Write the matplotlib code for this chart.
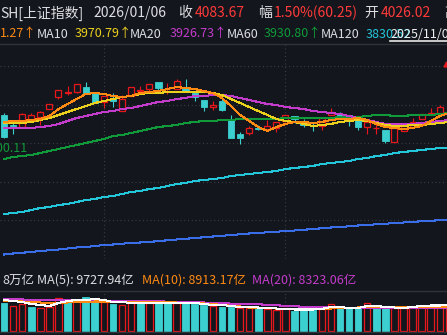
import matplotlib
matplotlib.use('Agg')
import matplotlib.pyplot as plt
import numpy as np

plt.rcParams['font.family'] = ['Noto Sans CJK SC', 'DejaVu Sans']

BG = '#13161c'
RED = '#e8171c'
CYAN = '#3ccfcf'
WHITE = '#dcdee2'
C_MA5 = '#ff8a14'
C_MA10 = '#ecd01e'
C_MA20 = '#c43ccc'
C_MA60 = '#109a3a'
C_MA120 = '#24c6da'
C_MA250 = '#3a6ee8'
GRID = '#3a3e46'

# 日K 数据 (上证指数)
opens = [3911.0, 3877.0, 3870.2, 3894.0, 3904.2, 3931.4, 3972.2, 3985.8, 3989.2, 4006.2,
         3985.8, 3955.2, 3968.8, 3924.6, 3975.6, 3992.6, 3999.4, 4023.2, 3998.0, 3999.4,
         4002.8, 3985.8, 3962.0, 3938.2, 3958.6, 3897.4, 3846.4, 3849.8, 3866.8, 3863.4,
         3866.8, 3890.6, 3907.6, 3890.6, 3875.3, 3873.6, 3911.0, 3914.4, 3911.0, 3900.8,
         3870.2, 3866.8, 3860.0, 3819.2, 3856.6, 3870.2, 3897.4, 3916.0, 3917.8]
highs = [3917.8, 3883.8, 3917.8, 3917.8, 3925.8, 3948.4, 3996.0, 4009.6, 4016.4, 4023.2,
         3985.8, 3975.6, 3985.8, 3979.0, 4006.2, 4009.6, 4016.4, 4023.2, 4019.8, 4033.4,
         4033.4, 3985.8, 3962.0, 3958.6, 3965.4, 3911.0, 3853.2, 3873.6, 3877.0, 3894.0,
         3887.2, 3911.0, 3907.6, 3897.4, 3883.8, 3900.8, 3934.8, 3921.2, 3911.0, 3900.8,
         3887.2, 3883.8, 3860.0, 3880.4, 3880.4, 3900.8, 3914.4, 3934.8, 3945.0]
lows = [3832.8, 3846.4, 3866.8, 3887.2, 3877.0, 3931.4, 3965.4, 3979.0, 3985.8, 3985.8,
        3951.8, 3934.8, 3938.2, 3924.6, 3975.6, 3992.6, 3985.8, 3992.6, 3982.4, 3999.4,
        3989.2, 3958.6, 3924.6, 3928.0, 3924.6, 3832.8, 3812.4, 3843.0, 3860.0, 3863.4,
        3853.2, 3887.2, 3883.8, 3870.2, 3856.6, 3860.0, 3911.0, 3907.6, 3873.6, 3860.0,
        3846.4, 3846.4, 3815.8, 3819.2, 3856.6, 3870.2, 3897.4, 3914.4, 3917.8]
closes = [3836.2, 3873.6, 3914.4, 3911.0, 3921.2, 3948.4, 3996.0, 3989.2, 4016.4, 3985.8,
          3951.8, 3975.6, 3958.6, 3965.4, 4006.2, 3996.0, 4016.4, 4002.8, 4000.0, 4026.6,
          3992.6, 3972.2, 3938.2, 3945.0, 3928.0, 3832.8, 3832.8, 3866.8, 3863.4, 3873.6,
          3887.2, 3911.0, 3897.4, 3877.0, 3873.6, 3900.8, 3921.2, 3907.6, 3897.4, 3870.2,
          3887.2, 3868.5, 3822.6, 3866.8, 3873.6, 3887.2, 3914.4, 3918.5, 3938.2]
prev_close = 3870.0
last_close = 4083.67

ma5 = [3887.2, 3890.6, 3890.6, 3894.0, 3897.4, 3907.6, 3931.4, 3948.4, 3965.4, 3982.4,
       3985.8, 3982.4, 3975.6, 3972.2, 3975.6, 3985.8, 3989.2, 3992.6, 3999.4, 4006.2,
       4002.8, 3999.4, 3992.6, 3985.8, 3968.8, 3941.6, 3911.0, 3890.6, 3870.2, 3856.6,
       3870.2, 3880.4, 3887.2, 3887.2, 3883.8, 3887.2, 3894.0, 3897.4, 3897.4, 3900.8,
       3894.0, 3880.4, 3870.2, 3866.8, 3863.4, 3866.8, 3873.6, 3890.6, 3907.6, 3917.8]
ma10 = [3883.8, 3883.8, 3883.8, 3887.2, 3894.0, 3900.8, 3911.0, 3921.2, 3931.4, 3941.6,
        3951.8, 3958.6, 3965.4, 3972.2, 3975.6, 3982.4, 3985.8, 3985.8, 3989.2, 3989.2,
        3989.2, 3989.2, 3989.2, 3985.8, 3979.0, 3965.4, 3951.8, 3938.2, 3924.6, 3911.0,
        3897.4, 3890.6, 3887.2, 3880.4, 3873.6, 3877.0, 3880.4, 3887.2, 3890.6, 3894.0,
        3890.6, 3883.8, 3877.0, 3873.6, 3873.6, 3877.0, 3877.0, 3880.4, 3883.8, 3887.2]
ma20 = [3866.8, 3866.8, 3866.8, 3866.8, 3870.2, 3873.6, 3880.4, 3890.6, 3900.8, 3907.6,
        3914.4, 3921.2, 3924.6, 3931.4, 3934.8, 3941.6, 3948.4, 3955.2, 3958.6, 3965.4,
        3968.8, 3975.6, 3975.6, 3979.0, 3979.0, 3975.6, 3968.8, 3962.0, 3955.2, 3948.4,
        3945.0, 3938.2, 3934.8, 3931.4, 3924.6, 3921.2, 3917.8, 3914.4, 3907.6, 3900.8,
        3894.0, 3887.2, 3880.4, 3880.4, 3880.4, 3880.4, 3883.8, 3887.2, 3890.6, 3894.0]
ma60 = [3761.4, 3768.2, 3771.6, 3775.0, 3781.8, 3788.6, 3795.4, 3802.2, 3809.0, 3815.8,
        3822.6, 3829.4, 3839.6, 3843.0, 3849.8, 3856.6, 3863.4, 3870.2, 3873.6, 3877.0,
        3883.8, 3887.2, 3890.6, 3890.6, 3894.0, 3894.0, 3897.4, 3897.4, 3897.4, 3897.4,
        3897.4, 3900.8, 3900.8, 3900.8, 3900.8, 3900.8, 3900.8, 3904.2, 3904.2, 3904.2,
        3907.6, 3911.0, 3911.0, 3907.6, 3907.6, 3911.0, 3911.0, 3911.0, 3914.4, 3917.8]
ma120 = [3574.4, 3577.8, 3581.2, 3588.0, 3594.8, 3598.2, 3605.0, 3608.4, 3615.2, 3622.0,
         3625.4, 3632.2, 3635.6, 3642.4, 3649.2, 3652.6, 3659.4, 3662.8, 3669.6, 3676.4,
         3679.8, 3686.6, 3690.0, 3693.4, 3696.8, 3703.6, 3707.0, 3710.4, 3713.8, 3717.2,
         3720.6, 3727.4, 3730.8, 3734.2, 3737.6, 3744.4, 3747.8, 3751.2, 3754.6, 3761.4,
         3764.8, 3771.6, 3775.0, 3781.8, 3785.2, 3788.6, 3792.0, 3795.4, 3798.8, 3800.5]
ma250 = [3436.7, 3440.1, 3442.8, 3445.2, 3448.6, 3451.0, 3453.7, 3457.1, 3460.5, 3462.2,
         3465.6, 3469.0, 3470.7, 3473.4, 3475.8, 3477.5, 3479.2, 3482.6, 3485.0, 3487.7,
         3490.1, 3492.8, 3495.2, 3497.9, 3500.3, 3503.0, 3505.4, 3508.1, 3509.8, 3512.2,
         3513.9, 3516.6, 3518.3, 3520.7, 3523.4, 3525.8, 3528.5, 3530.2, 3532.6, 3535.3,
         3537.0, 3539.4, 3541.1, 3543.8, 3545.5, 3547.9, 3549.6, 3551.6, 3553.0, 3555.0]

# 成交额 (亿)
volume = [11320, 10000, 10800, 9720, 9200, 9720, 13080, 12120, 12120, 13720,
          13080, 11720, 10800, 10400, 11480, 11320, 11080, 11080, 11080, 11320,
          11080, 10800, 10400, 10000, 9720, 9720, 9080, 9080, 9320, 8680,
          8400, 9080, 8120, 8680, 8400, 8680, 10680, 10000, 9080, 9080,
          11320, 9080, 9080, 9080, 9080, 9480, 9720, 10000, 9720, 10000]
vol_ma5 = [12400, 12000, 11600, 10800, 10400, 10000, 11200, 12000, 12400, 12400,
           12800, 12400, 11600, 11600, 11200, 11200, 11200, 11200, 11200, 11200,
           11200, 11200, 10800, 10400, 10400, 10000, 9600, 9600, 9400, 9200,
           9000, 8800, 8600, 8600, 8600, 8800, 9600, 9600, 9200, 9200,
           10000, 10000, 9600, 9400, 9200, 9600, 10000, 10200, 10200, 10400]
vol_ma10 = [12120, 12000, 11800, 11600, 11400, 11200, 11200, 11400, 11600, 11600,
            11800, 11800, 11600, 11600, 11400, 11400, 11400, 11400, 11400, 11400,
            11200, 11200, 11000, 10800, 10400, 10120, 9800, 9400, 9200, 9080,
            9000, 8800, 8680, 8680, 8680, 8800, 9000, 9200, 9200, 9400,
            9600, 9600, 9600, 9600, 9600, 9720, 9720, 9720, 9720, 9720]
vol_ma20 = [12680, 12640, 12600, 12540, 12480, 12400, 12360, 12320, 12280, 12240,
            12200, 12140, 12080, 12020, 11960, 11900, 11860, 11820, 11780, 11740,
            11720, 11560, 11400, 11240, 11080, 10980, 10880, 10780, 10680, 10480,
            10280, 10080, 9880, 9720, 9640, 9560, 9480, 9400, 9320, 9320,
            9300, 9300, 9280, 9260, 9240, 9200, 9200, 9200, 9200, 9200]

grid_prices = [4077.6, 3946.7, 3815.8, 3684.9, 3554.0, 3423.1]
month_marks = [11, 31]

W, H = 447, 335
fig = plt.figure(figsize=(W / 100, H / 100), dpi=100)
fig.patch.set_facecolor(BG)


def pane(top, bottom):
    a = fig.add_axes([0, (H - bottom) / H, 1, (bottom - top) / H])
    a.set_facecolor(BG)
    a.set_axis_off()
    a.set_xlim(-4 / 9.08, (W - 4) / 9.08)
    return a


# ---- K线 ----
ax = pane(44, 259)
ax.set_ylim(3421.4, 4152.4)
for g in grid_prices:
    ax.axhline(g, color=GRID, lw=0.9, ls=(0, (0.8, 2.2)), zorder=0)
for m in month_marks:
    ax.axvline(m, color=GRID, lw=0.9, ls=(0, (0.8, 2.2)), zorder=0)

n = len(closes)
xs = np.arange(n)
o = np.array(opens)
c = np.array(closes)
hi = np.array(highs)
lo = np.array(lows)
up = c >= o
top = np.maximum(o, c)
bot = np.minimum(o, c)
col = np.where(up, RED, CYAN)

ax.vlines(xs, top, hi, colors=col, lw=0.8, zorder=2)
ax.vlines(xs, lo, bot, colors=col, lw=0.8, zorder=2)
ax.bar(xs[up], (top - bot)[up], bottom=bot[up], width=0.66,
       facecolor=BG, edgecolor=RED, lw=0.9, zorder=3)
ax.bar(xs[~up], (top - bot)[~up], bottom=bot[~up], width=0.7,
       facecolor=CYAN, edgecolor=CYAN, lw=0.6, zorder=3)

xm = np.arange(len(ma5))
for vals, cc in [(ma250, C_MA250), (ma120, C_MA120), (ma60, C_MA60),
                 (ma20, C_MA20), (ma10, C_MA10), (ma5, C_MA5)]:
    ax.plot(xm, vals, color=cc, lw=0.75, antialiased=False, zorder=4)

# 最新价标记
ax.plot([n - 0.35], [last_close], marker='^', color=RED, ms=3.5, zorder=5)

# ---- 成交额 ----
av = pane(291, 332)
av.set_ylim(-400, 16000)
for m in month_marks:
    av.axvline(m, color=GRID, lw=0.9, ls=(0, (0.8, 2.2)), zorder=0)
xv = np.arange(len(volume))
prev = [prev_close] + closes[:-1]
vup = [True] * len(volume)
for i in range(n):
    vup[i] = closes[i] >= prev[i]
vup = np.array(vup)
vol = np.array(volume)
av.bar(xv[vup], vol[vup], width=0.72, facecolor=BG, edgecolor=RED, lw=0.9, zorder=2)
av.bar(xv[~vup], vol[~vup], width=0.74, facecolor=CYAN, edgecolor=CYAN, lw=0.6, zorder=2)
for vals, cc in [(vol_ma20, C_MA20), (vol_ma10, C_MA5), (vol_ma5, '#ffffff')]:
    av.plot(xv, vals, color=cc, lw=0.75, antialiased=False, zorder=3)

# ---- 文字层 ----
at = fig.add_axes([0, 0, 1, 1], zorder=10)
at.set_xlim(0, W)
at.set_ylim(H, 0)
at.set_axis_off()
at.patch.set_alpha(0)

for y in [44, 291, 332]:
    at.plot([0, W], [y, y], color='#30333a', lw=1)
at.plot([390, W], [40.5, 40.5], color='#e8e8e8', lw=1.2)

red_txt = '#ff3a3a'
row1 = [(0, 'SH[上证指数]', WHITE), (93, '2026/01/06', WHITE), (178, '收', WHITE),
        (195, '4083.67', red_txt), (258, '幅', WHITE), (274, '1.50%(60.25)', red_txt),
        (364, '开', WHITE), (381, '4026.02', red_txt), (444, '高', WHITE)]
row2 = [(0, '1.27↑', C_MA5), (37, 'MA10', WHITE), (75, '3970.79↑', C_MA10),
        (130, 'MA20', WHITE), (170, '3926.73↑', C_MA20), (227, 'MA60', WHITE),
        (264, '3930.80↑', C_MA60), (321, 'MA120', WHITE), (366, '3830.52', C_MA120),
        (390, '2025/11/03', '#f0f0f0')]
row3 = [(2, '8万亿', WHITE), (37, 'MA(5): 9727.94亿', WHITE),
        (142, 'MA(10): 8913.17亿', C_MA5), (252, 'MA(20): 8323.06亿', C_MA20)]
for yy, row, fs in [(13, row1, 10), (34, row2, 9), (280, row3, 9)]:
    for x, t, cc in row:
        at.text(x, yy, t, color=cc, fontsize=fs, va='center', ha='left')

at.text(28, 148.5, '3900.11', color=C_MA60, fontsize=9, va='center', ha='right')

fig.savefig('out.png', dpi=100, facecolor=BG)
